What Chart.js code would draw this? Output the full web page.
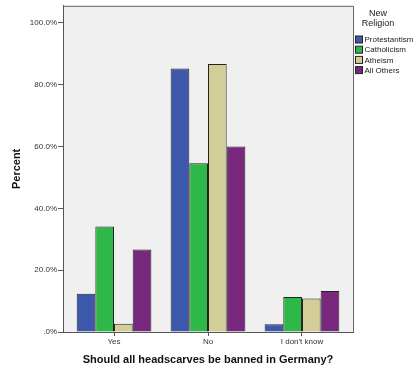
<!DOCTYPE html>
<html>
<head>
<meta charset="utf-8">
<script src="https://cdn.jsdelivr.net/npm/chart.js@4"></script>
<style>
  body { margin: 0; background: #fff; }
  #wrap { width: 420px; height: 367px; }
</style>
</head>
<body>
<div id="wrap"><canvas id="chart" width="420" height="367"></canvas></div>
<script>
const categories = ["Yes", "No", "I don't know"];
const religions = ["Protestantism", "Catholicism", "Atheism", "All Others"];
const protestantism = [12.4, 85.2, 2.5];
const catholicism = [34.1, 54.6, 11.3];
const atheism = [2.7, 86.7, 10.8];
const allOthers = [26.7, 60.0, 13.3];
const yTicks = [0, 20, 40, 60, 80, 100];
const colors = ["#3e58ac", "#2eb848", "#d3ce97", "#78287d"];

const seriesValues = [protestantism, catholicism, atheism, allOthers];

// plot background, frame and the legend box at the right
const framePlugin = {
    id: "frame",
    beforeDraw(chart) {
        const { ctx, chartArea: a } = chart;
        ctx.save();
        ctx.fillStyle = "#f0f0f0";
        ctx.fillRect(a.left, a.top, a.right - a.left, a.bottom - a.top);
        ctx.restore();
    },
    afterDraw(chart) {
        const { ctx, chartArea: a } = chart;
        ctx.save();
        ctx.strokeStyle = "#666";
        ctx.lineWidth = 1;
        ctx.beginPath();
        ctx.moveTo(a.left, a.top + 0.5);
        ctx.lineTo(a.right + 0.5, a.top + 0.5);
        ctx.lineTo(a.right + 0.5, a.bottom);
        ctx.stroke();

        ctx.fillStyle = "#222";
        ctx.font = "9px 'Liberation Sans', Arial, sans-serif";
        ctx.textAlign = "center";
        ctx.textBaseline = "middle";
        ctx.fillText("New", 378, 14);
        ctx.fillText("Religion", 378, 24);

        ctx.font = "8px 'Liberation Sans', Arial, sans-serif";
        ctx.textAlign = "left";
        chart.data.datasets.forEach((ds, i) => {
            const y = 39.5 + i * 10.2;
            ctx.fillStyle = ds.backgroundColor;
            ctx.fillRect(355.5, y - 3.5, 7, 7);
            ctx.strokeStyle = "#222";
            ctx.strokeRect(355.5, y - 3.5, 7, 7);
            ctx.fillStyle = "#222";
            ctx.fillText(ds.label, 364.5, y + 0.5);
        });
        ctx.restore();
    }
};

const ctx = document.getElementById("chart").getContext("2d");
new Chart(ctx, {
    type: "bar",
    data: {
        labels: categories,
        datasets: religions.map((name, i) => ({
            label: name,
            data: seriesValues[i],
            backgroundColor: colors[i],
            borderColor: "#222",
            borderWidth: 1,
            barPercentage: 1,
            categoryPercentage: 0.795
        }))
    },
    options: {
        responsive: false,
        animation: false,
        layout: { padding: { top: 4, right: 67, left: 0, bottom: 0 } },
        plugins: {
            legend: { display: false },
            tooltip: { enabled: false }
        },
        scales: {
            x: {
                afterFit(scale) { scale.height = 35; },
                // a bit more room at both ends than the default half-category
                beforeCalculateLabelRotation(scale) {
                    scale._startValue = -0.543;
                    scale._valueRange = 3.086;
                },
                grid: { drawOnChartArea: false, offset: false, tickLength: 4, color: "#555" },
                border: { color: "#555" },
                ticks: {
                    color: "#333",
                    padding: 1,
                    font: { family: "'Liberation Sans', Arial, sans-serif", size: 8 }
                },
                title: {
                    display: true,
                    text: "Should all headscarves be banned in Germany?",
                    color: "#111",
                    padding: { top: 6, bottom: 0 },
                    font: { family: "'Liberation Sans', Arial, sans-serif", size: 11, weight: "bold" }
                }
            },
            y: {
                min: 0,
                max: 105.5,
                afterFit(scale) { scale.width = 63; },
                afterBuildTicks(scale) { scale.ticks = yTicks.map(v => ({ value: v })); },
                grid: { drawOnChartArea: false, tickLength: 5, color: "#555" },
                border: { color: "#555" },
                ticks: {
                    color: "#333",
                    padding: 1,
                    font: { family: "'Liberation Sans', Arial, sans-serif", size: 8 },
                    callback: v => v === 0 ? ".0%" : v.toFixed(1) + "%"
                },
                title: {
                    display: true,
                    text: "Percent",
                    color: "#111",
                    padding: { top: 10, bottom: 0 },
                    font: { family: "'Liberation Sans', Arial, sans-serif", size: 11, weight: "bold" }
                }
            }
        }
    },
    plugins: [framePlugin]
});
</script>
</body>
</html>
